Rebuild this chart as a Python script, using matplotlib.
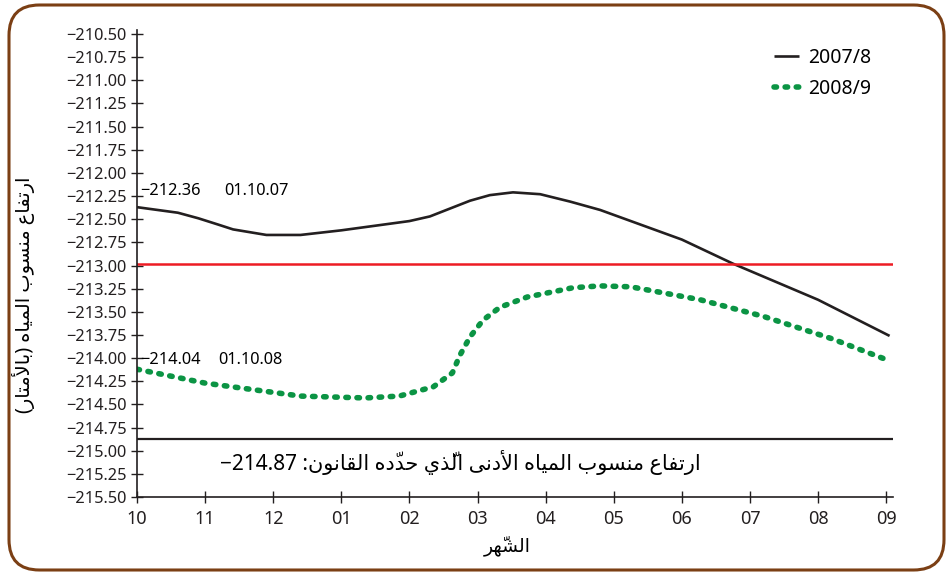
import numpy as np
import matplotlib
matplotlib.use('Agg')
from matplotlib import pyplot as plt
from matplotlib.patches import FancyBboxPatch

plt.rcParams['font.family'] = ['Noto Sans', 'DejaVu Sans']

# month labels, position 0 = October
months = ['10', '11', '12', '01', '02', '03', '04', '05', '06', '07', '08', '09']

# 2007/8 water level
x_0708 = [0, 0.6, 0.9, 1.2, 1.41, 1.9, 2.4, 3.0, 4.0, 4.3, 4.89, 5.18, 5.52, 5.92, 6.36,
          6.8, 7.25, 8.0, 8.75, 10.0, 11.05]
y_0708 = [-212.37, -212.43, -212.49, -212.56, -212.61, -212.67, -212.67, -212.62, -212.52,
          -212.47, -212.30, -212.24, -212.21, -212.23, -212.31, -212.40, -212.52, -212.72,
          -212.98, -213.37, -213.76]

# 2008/9 water level
x_0809 = [0, 1.0, 2.0, 2.4, 3.35, 3.85, 4.35, 4.63, 4.74, 4.89, 5.08, 5.33, 5.73, 6.4, 6.8,
          7.25, 8.27, 9.2, 10.2, 10.98]
y_0809 = [-214.12, -214.27, -214.37, -214.41, -214.43, -214.41, -214.31, -214.16, -213.97,
          -213.77, -213.59, -213.45, -213.34, -213.24, -213.22, -213.23, -213.37, -213.55,
          -213.79, -214.01]

red_level = -212.98
min_level = -214.87

yticks = np.arange(-215.5, -210.49, 0.25)

# --- very small arabic shaper (matplotlib has no bidi / shaping) ---
FORMS = {
    'ا': (0xFE8D, 2), 'أ': (0xFE83, 2), 'إ': (0xFE87, 2), 'آ': (0xFE81, 2),
    'ب': (0xFE8F, 4), 'ت': (0xFE95, 4), 'ث': (0xFE99, 4), 'ج': (0xFE9D, 4),
    'ح': (0xFEA1, 4), 'خ': (0xFEA5, 4), 'د': (0xFEA9, 2), 'ذ': (0xFEAB, 2),
    'ر': (0xFEAD, 2), 'ز': (0xFEAF, 2), 'س': (0xFEB1, 4), 'ش': (0xFEB5, 4),
    'ع': (0xFEC9, 4), 'ف': (0xFED1, 4), 'ق': (0xFED5, 4), 'ل': (0xFEDD, 4),
    'م': (0xFEE1, 4), 'ن': (0xFEE5, 4), 'ه': (0xFEE9, 4), 'و': (0xFEED, 2),
    'ى': (0xFEEF, 2), 'ي': (0xFEF1, 4),
}
LAMALEF = {'ا': 0xFEFB, 'أ': 0xFEF7, 'إ': 0xFEF9, 'آ': 0xFEF5}
MARKS = '\u0651'


def rtl(text):
    # shape logical arabic text and return it in visual (left to right) order
    clusters = []
    for c in text:
        if c in MARKS and clusters:
            clusters[-1][1] += c
        else:
            clusters.append([c, ''])
    # lam-alef ligatures
    merged = []
    for cl in clusters:
        if merged and merged[-1][0] == 'ل' and cl[0] in LAMALEF and not merged[-1][1]:
            merged[-1] = ['LA' + cl[0], cl[1]]
        else:
            merged.append(cl)

    def dual(ch):
        return ch in FORMS and FORMS[ch][1] == 4

    def arab(ch):
        return ch in FORMS or ch.startswith('LA')

    out = []
    for k, (ch, mk) in enumerate(merged):
        prev_join = k > 0 and dual(merged[k - 1][0])
        if ch.startswith('LA'):
            base = LAMALEF[ch[2]]
            g = chr(base + 1) if prev_join else chr(base)
        elif ch in FORMS:
            base, n = FORMS[ch]
            next_join = n == 4 and k + 1 < len(merged) and arab(merged[k + 1][0])
            if prev_join and next_join:
                g = chr(base + 3)
            elif prev_join:
                g = chr(base + 1)
            elif next_join:
                g = chr(base + 2)
            else:
                g = chr(base)
        else:
            g = {'(': ')', ')': '('}.get(ch, ch)
        # mark goes in front so it is drawn over its letter
        out.append(mk + g)
    return ''.join(out[::-1])


fig = plt.figure(figsize=(9.49, 5.74), dpi=100)
ax = fig.add_axes([0.1444, 0.1341, 0.7966, 0.8136])

ax.plot(x_0708, y_0708, color='#231f20', linewidth=1.9, label='2007/8', solid_capstyle='butt')
ax.plot(x_0809, y_0809, color='#0b9444', linewidth=4, linestyle=(0, (0.45, 1.55)),
        dash_capstyle='round', label='2008/9')
ax.axhline(red_level, color='#ed1c24', linewidth=1.8)
ax.axhline(min_level, color='#231f20', linewidth=1.6)

ax.set_xlim(0, 11.1)
ax.set_ylim(-215.5, -210.457)
ax.set_xticks(range(len(months)))
ax.set_xticklabels(months, fontsize=13)
ax.set_yticks(yticks)
ax.set_yticklabels(['\u2212%.2f' % abs(v) for v in yticks], fontsize=11.8)
ax.tick_params(direction='inout', length=9, width=1, colors='#231f20', pad=3)
ax.tick_params(axis='x', pad=5)
for s in ['top', 'right']:
    ax.spines[s].set_visible(False)
for s in ['left', 'bottom']:
    ax.spines[s].set_linewidth(1.2)
    ax.spines[s].set_color('#231f20')

ax.text(0.04, -212.19, '\u2212212.36', fontsize=11.8, va='center', ha='left')
ax.text(1.28, -212.19, '01.10.07', fontsize=11.8, va='center', ha='left')
ax.text(0.04, -214.02, '\u2212214.04', fontsize=11.8, va='center', ha='left')
ax.text(1.19, -214.02, '01.10.08', fontsize=11.8, va='center', ha='left')

ax.text(8.27, -215.13,
        '\u2212214.87 :' + rtl('ارتفاع منسوب المياه الأدنى الّذي حدّده القانون'),
        fontsize=15, va='center', ha='right')

leg = ax.legend(loc='upper right', bbox_to_anchor=(0.995, 1.0), frameon=False,
                fontsize=14, handlelength=1.3, handletextpad=0.5, labelspacing=0.6)

fig.text(507 / 949, 1 - 546 / 574, rtl('الشّهر'), fontsize=13.5, ha='center', va='center')
fig.text(24 / 949, 1 - 295 / 574, rtl('ارتفاع منسوب المياه (بالأمتار)'), fontsize=14,
         rotation=90, ha='center', va='center')

border = FancyBboxPatch((9 / 949, 4 / 574), 935 / 949, 565 / 574,
                        boxstyle='round,pad=0,rounding_size=0.032',
                        mutation_aspect=949 / 574, transform=fig.transFigure,
                        facecolor='none', edgecolor='#7b3f14', linewidth=2.2)
fig.patches.append(border)

fig.savefig('out.png', dpi=100)
